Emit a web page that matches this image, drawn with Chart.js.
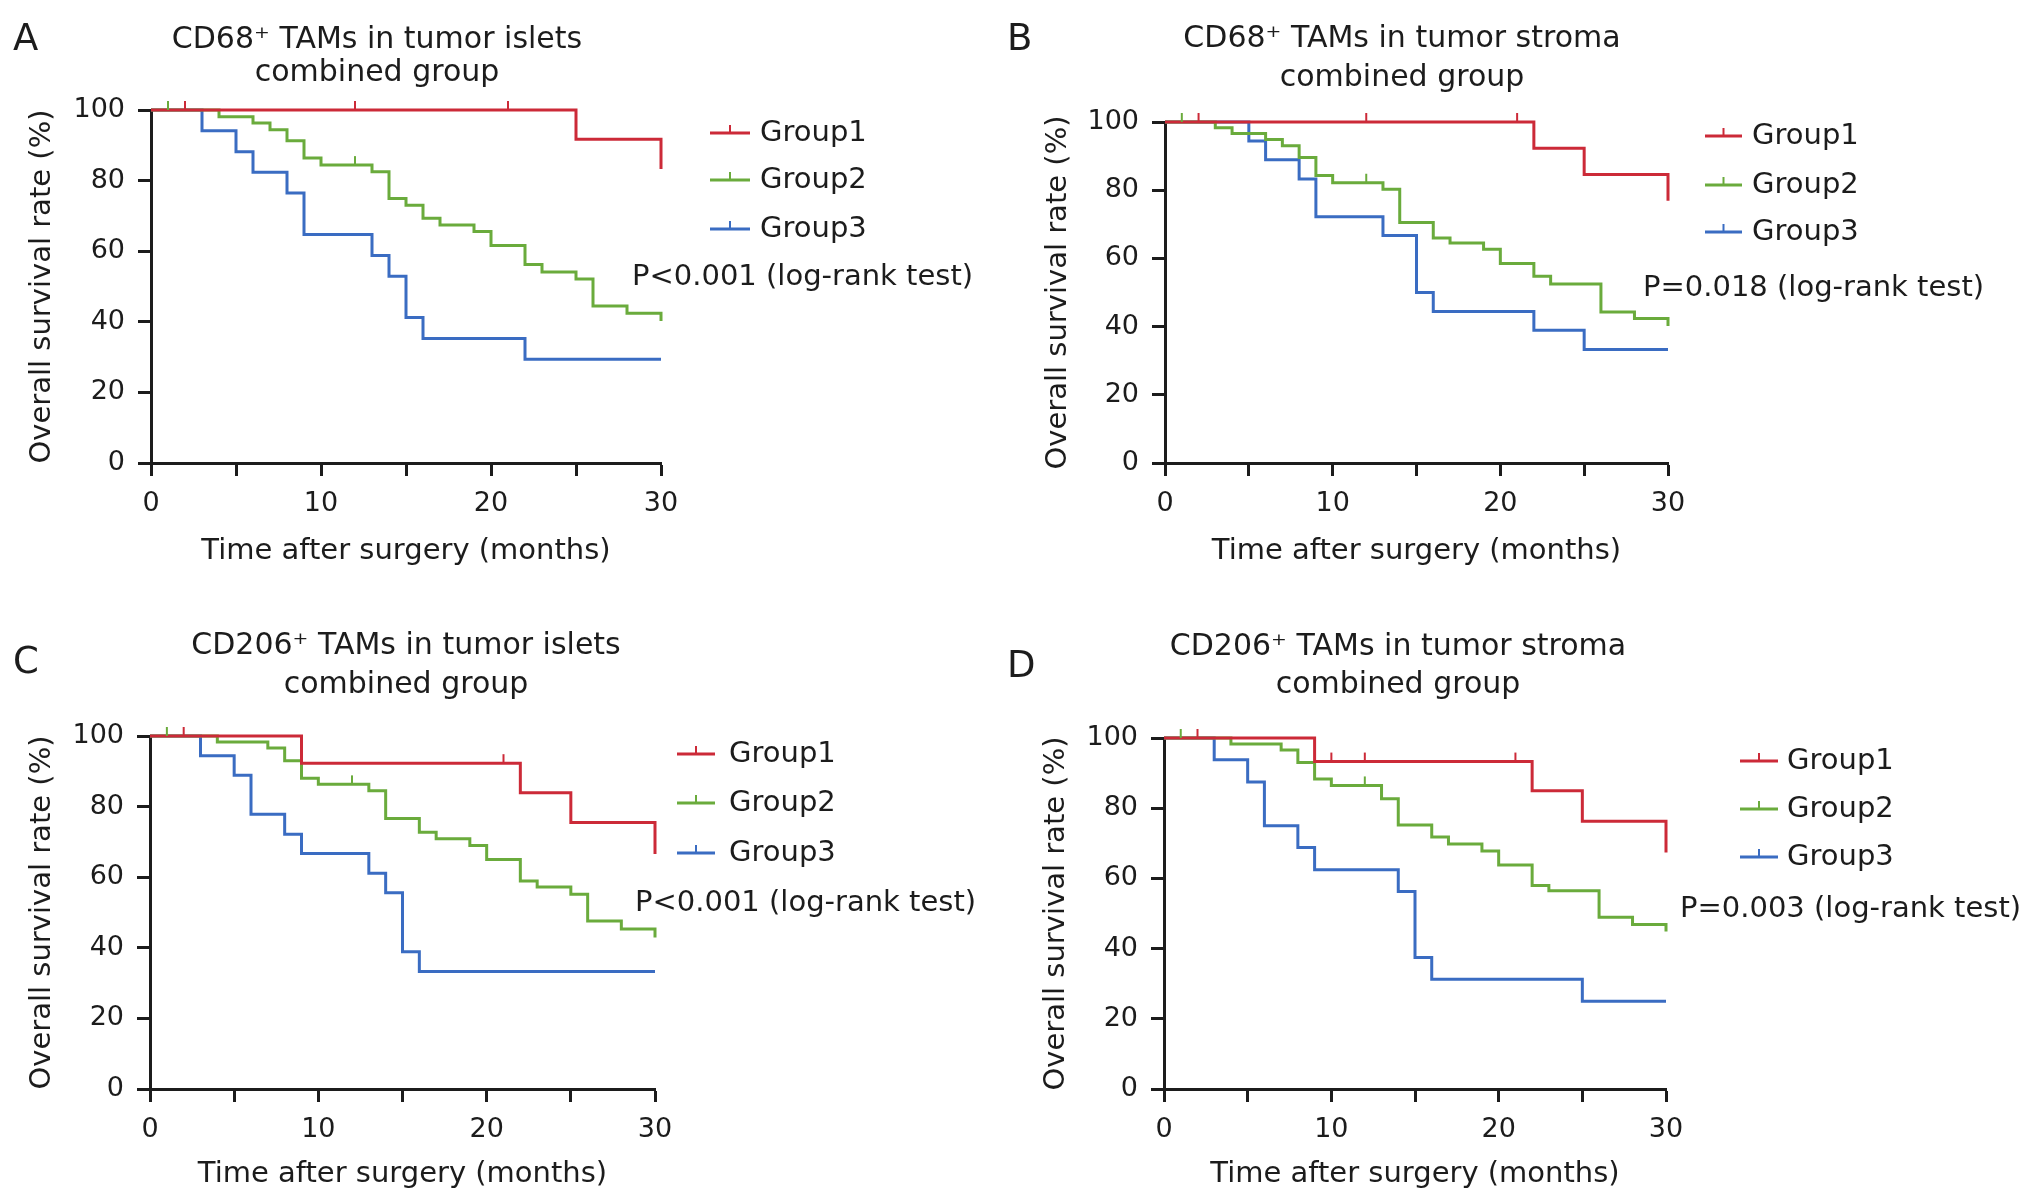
<!DOCTYPE html>
<html lang="en">
<head>
<meta charset="UTF-8">
<title>Overall survival by TAM group</title>
<script src="https://cdn.jsdelivr.net/npm/chart.js"></script>
<style>
  body { margin: 0; background: #fff; width: 2032px; height: 1204px; position: relative; overflow: hidden; }
  canvas { position: absolute; }
</style>
</head>
<body>
<canvas id="chartA" width="1016" height="602" style="left:0;top:0"></canvas>
<canvas id="chartB" width="1042" height="602" style="left:990px;top:0"></canvas>
<canvas id="chartC" width="1016" height="602" style="left:0;top:602px"></canvas>
<canvas id="chartD" width="1042" height="602" style="left:990px;top:602px"></canvas>

<script>
// ---- data ----
const groupLabels = ['Group1', 'Group2', 'Group3'];
const xTickValues = [0, 10, 20, 30];
const yTickValues = [0, 20, 40, 60, 80, 100];
const panelLetters = ['A', 'B', 'C', 'D'];
const titlesA = ['CD68\u207A TAMs in tumor islets', 'combined group'];
const titlesB = ['CD68\u207A TAMs in tumor stroma', 'combined group'];
const titlesC = ['CD206\u207A TAMs in tumor islets', 'combined group'];
const titlesD = ['CD206\u207A TAMs in tumor stroma', 'combined group'];
const pValues = ['P<0.001 (log-rank test)', 'P=0.018 (log-rank test)', 'P<0.001 (log-rank test)', 'P=0.003 (log-rank test)'];

// A: CD68+ islets
const aTime1 = [0, 25, 30];
const aSurv1 = [100, 91.7, 83.3];
const aCens1 = [2, 12, 21];
const aTime2 = [0, 4, 6, 7, 8, 9, 10, 13, 14, 15, 16, 17, 19, 20, 22, 23, 25, 26, 28, 30];
const aSurv2 = [100, 98.1, 96.3, 94.4, 91.3, 86.4, 84.4, 82.5, 74.9, 73.0, 69.3, 67.4, 65.6, 61.6, 56.2, 54.1, 52.1, 44.5, 42.4, 40.2];
const aCens2 = [1, 12];
const aTime3 = [0, 3, 5, 6, 8, 9, 13, 14, 15, 16, 22, 30];
const aSurv3 = [100, 94.1, 88.2, 82.4, 76.5, 64.7, 58.8, 52.9, 41.2, 35.3, 29.4, 29.4];

// B: CD68+ stroma
const bTime1 = [0, 22, 25, 30];
const bSurv1 = [100, 92.3, 84.6, 76.9];
const bCens1 = [2, 12, 21];
const bTime2 = [0, 3, 4, 6, 7, 8, 9, 10, 13, 14, 16, 17, 19, 20, 22, 23, 26, 28, 30];
const bSurv2 = [100, 98.3, 96.6, 94.9, 93.0, 89.6, 84.3, 82.2, 80.3, 70.5, 66.0, 64.5, 62.7, 58.5, 54.8, 52.5, 44.3, 42.4, 40.2];
const bCens2 = [1, 12];
const bTime3 = [0, 5, 6, 8, 9, 13, 15, 16, 22, 25, 30];
const bSurv3 = [100, 94.4, 88.9, 83.3, 72.2, 66.7, 50.0, 44.4, 38.9, 33.3, 33.3];

// C: CD206+ islets
const cTime1 = [0, 9, 22, 25, 30];
const cSurv1 = [100, 92.3, 83.9, 75.5, 66.6];
const cCens1 = [2, 21];
const cTime2 = [0, 4, 7, 8, 9, 10, 13, 14, 16, 17, 19, 20, 22, 23, 25, 26, 28, 30];
const cSurv2 = [100, 98.3, 96.6, 93.0, 88.0, 86.3, 84.5, 76.6, 72.7, 70.9, 69.0, 65.0, 58.9, 57.2, 55.2, 47.6, 45.3, 42.9];
const cCens2 = [1, 12];
const cTime3 = [0, 3, 5, 6, 8, 9, 13, 14, 15, 16, 30];
const cSurv3 = [100, 94.4, 88.9, 77.8, 72.2, 66.7, 61.1, 55.6, 38.9, 33.3, 33.3];

// D: CD206+ stroma
const dTime1 = [0, 9, 22, 25, 30];
const dSurv1 = [100, 93.3, 85.0, 76.3, 67.4];
const dCens1 = [2, 10, 12, 21];
const dTime2 = [0, 4, 7, 8, 9, 10, 13, 14, 16, 17, 19, 20, 22, 23, 26, 28, 30];
const dSurv2 = [100, 98.3, 96.6, 93.0, 88.3, 86.5, 82.7, 75.2, 71.8, 69.8, 67.8, 63.8, 58.0, 56.5, 48.9, 46.9, 44.9];
const dCens2 = [1, 12];
const dTime3 = [0, 3, 5, 6, 8, 9, 14, 15, 16, 25, 30];
const dSurv3 = [100, 93.8, 87.5, 75.0, 68.8, 62.5, 56.3, 37.5, 31.3, 25.0, 25.0];

// ---- styling / layout ----
const groupColors = ['#cc2a38', '#6aab3c', '#3a6cc2'];
const ink = '#1c1c1c';
const family = '"DejaVu Sans", "Liberation Sans", Arial, sans-serif';
const textSize = 29;

// per panel boxes (canvas-local pixels)
const boxes = [
  { w: 1016, area: { l: 151, r: 661, t: 110, b: 463 }, letter: [13, 50], titleX: 377, titleY: [40, 73],
    legX: [710, 750, 760], legY: [133, 180, 229], pX: 632, pY: 277, yTitleX: 42, xTitleY: 551 },
  { w: 1042, area: { l: 175, r: 678, t: 122, b: 463 }, letter: [17, 50], titleX: 412, titleY: [39, 78],
    legX: [715, 752, 762], legY: [136, 185, 232], pX: 653, pY: 288, yTitleX: 68, xTitleY: 551 },
  { w: 1016, area: { l: 150, r: 655, t: 134, b: 487 }, letter: [13, 71], titleX: 406, titleY: [44, 83],
    legX: [677, 715, 729], legY: [152, 201, 251], pX: 635, pY: 301, yTitleX: 42, xTitleY: 572 },
  { w: 1042, area: { l: 174, r: 676, t: 136, b: 487 }, letter: [17, 75], titleX: 408, titleY: [45, 83],
    legX: [750, 788, 797], legY: [159, 207, 255], pX: 690, pY: 307, yTitleX: 66, xTitleY: 572 }
];
const canvasH = 602;

const panels = [
  { id: 'chartA', titles: titlesA, times: [aTime1, aTime2, aTime3], surv: [aSurv1, aSurv2, aSurv3], cens: [aCens1, aCens2, []] },
  { id: 'chartB', titles: titlesB, times: [bTime1, bTime2, bTime3], surv: [bSurv1, bSurv2, bSurv3], cens: [bCens1, bCens2, []] },
  { id: 'chartC', titles: titlesC, times: [cTime1, cTime2, cTime3], surv: [cSurv1, cSurv2, cSurv3], cens: [cCens1, cCens2, []] },
  { id: 'chartD', titles: titlesD, times: [dTime1, dTime2, dTime3], surv: [dSurv1, dSurv2, dSurv3], cens: [dCens1, dCens2, []] }
];

// survival value of a step curve at time t
function survAt(times, surv, t) {
  let v = surv[0];
  for (let i = 0; i < times.length; i++) if (times[i] <= t) v = surv[i];
  return v;
}

// small upward tick used for censored cases
function censorMark(color) {
  const c = document.createElement('canvas');
  c.width = 4; c.height = 20;
  const g = c.getContext('2d');
  g.strokeStyle = color; g.lineWidth = 2;
  g.beginPath(); g.moveTo(2, 1); g.lineTo(2, 10); g.stroke();
  return c;
}

const decor = {
  id: 'decor',
  afterDraw(chart, args, opts) {
    const ctx = chart.ctx, b = opts.box;
    ctx.save();
    ctx.fillStyle = ink;
    ctx.textAlign = 'left'; ctx.textBaseline = 'alphabetic';
    ctx.font = '37px ' + family;
    ctx.fillText(opts.letter, b.letter[0], b.letter[1]);

    ctx.font = (textSize + 1) + 'px ' + family;
    ctx.textAlign = 'center'; ctx.textBaseline = 'middle';
    opts.titles.forEach((t, i) => ctx.fillText(t, b.titleX, b.titleY[i]));

    ctx.font = textSize + 'px ' + family;
    ctx.textAlign = 'left';
    groupLabels.forEach((g, i) => {
      const y = b.legY[i], mid = (b.legX[0] + b.legX[1]) / 2;
      ctx.strokeStyle = groupColors[i]; ctx.lineWidth = 3;
      ctx.beginPath();
      ctx.moveTo(b.legX[0], y); ctx.lineTo(b.legX[1], y);
      ctx.stroke();
      ctx.lineWidth = 2;
      ctx.beginPath(); ctx.moveTo(mid, y); ctx.lineTo(mid, y - 8); ctx.stroke();
      ctx.fillText(g, b.legX[2], y);
    });
    ctx.fillText(opts.pValue, b.pX, b.pY);
    ctx.restore();
  }
};

panels.forEach((p, k) => {
  const b = boxes[k];
  const datasets = [];
  p.times.forEach((times, i) => {
    datasets.push({
      label: groupLabels[i],
      data: times.map((t, j) => ({ x: t, y: p.surv[i][j] })),
      borderColor: groupColors[i], borderWidth: 3,
      stepped: true, pointRadius: 0, fill: false, clip: 10, order: i + 1
    });
  });
  p.cens.forEach((list, i) => {
    if (!list.length) return;
    datasets.push({
      label: groupLabels[i] + ' censored',
      data: list.map(t => ({ x: t, y: survAt(p.times[i], p.surv[i], t) })),
      showLine: false, pointStyle: censorMark(groupColors[i]), pointRadius: 3, clip: 20, order: 0
    });
  });

  new Chart(document.getElementById(p.id), {
    type: 'line',
    data: { datasets },
    options: {
      responsive: false, animation: false, devicePixelRatio: 1,
      layout: { padding: { left: 0, right: b.w - b.area.r, top: b.area.t, bottom: 0 } },
      plugins: {
        legend: { display: false }, tooltip: { enabled: false },
        decor: { box: b, letter: panelLetters[k], titles: p.titles, pValue: pValues[k] }
      },
      scales: {
        x: {
          type: 'linear', min: 0, max: 30,
          afterFit: s => { s.height = canvasH - b.area.b; },
          ticks: { stepSize: 5, padding: 12, color: ink, font: { family, size: 27 },
                   callback: v => xTickValues.includes(v) ? v : '' },
          grid: { display: true, drawOnChartArea: false, drawTicks: true, tickLength: 13, tickWidth: 3, tickColor: ink },
          border: { display: true, color: ink, width: 3 },
          title: { display: true, text: 'Time after surgery (months)', color: ink, font: { family, size: textSize },
                   padding: { top: 0, bottom: canvasH - b.xTitleY - textSize * 0.6 } }
        },
        y: {
          min: 0, max: 100,
          afterFit: s => { s.width = b.area.l; },
          afterBuildTicks: s => { s.ticks = yTickValues.map(v => ({ value: v })); },
          ticks: { padding: 13, color: ink, font: { family, size: 27 } },
          grid: { display: true, drawOnChartArea: false, drawTicks: true, tickLength: 13, tickWidth: 3, tickColor: ink },
          border: { display: true, color: ink, width: 3 },
          title: { display: true, text: 'Overall survival rate (%)', color: ink, font: { family, size: textSize },
                   padding: { top: b.yTitleX - textSize * 0.6, bottom: 0 } }
        }
      }
    },
    plugins: [decor]
  });
});
</script>
</body>
</html>
